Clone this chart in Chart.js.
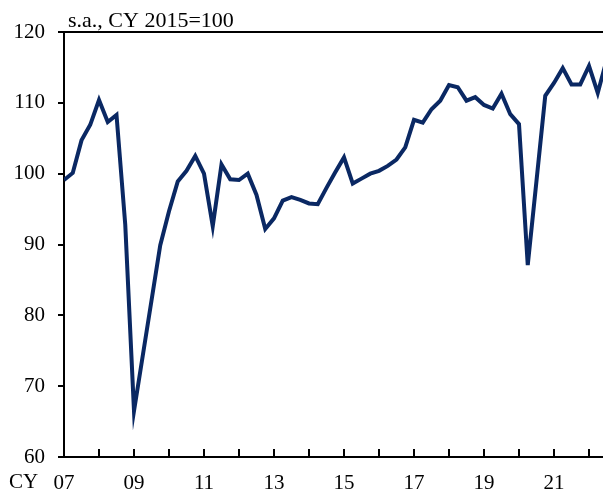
<!DOCTYPE html>
<html>
<head>
<meta charset="utf-8">
<script src="https://cdn.jsdelivr.net/npm/chart.js@4/dist/chart.umd.min.js"></script>
<style>
  html, body { margin: 0; padding: 0; background: #fff; }
  #wrap { width: 603px; height: 492px; }
</style>
</head>
<body>
<div id="wrap"><canvas id="chart" width="603" height="492"></canvas></div>
<script>
// quarterly index, 2007Q1 .. 2022Q3
const startYear = 2007;
const values = [
  99.1, 100.1, 104.7, 106.9, 110.4, 107.3, 108.3, 92.8,
  66.5, 74.3, 82.1, 89.9, 94.7, 98.9, 100.4, 102.5,
  100.0, 92.6, 101.3, 99.2, 99.1, 100.0, 97.0, 92.2,
  93.7, 96.2, 96.7, 96.3, 95.8, 95.7, 98.0, 100.2,
  102.3, 98.6, 99.3, 100.0, 100.4, 101.1, 102.0, 103.7,
  107.6, 107.2, 109.1, 110.3, 112.5, 112.2, 110.3, 110.8,
  109.7, 109.2, 111.3, 108.4, 107.0, 87.1, 99.0, 111.0,
  112.8, 114.9, 112.6, 112.6, 115.2, 111.4, 116.0
];
const yTicks = [60, 70, 80, 90, 100, 110, 120];
const unitLabel = "s.a., CY 2015=100";
const axisPrefix = "CY";

const points = values.map((v, i) => ({ x: startYear + i / 4, y: v }));
const serif = "'Liberation Serif', 'Times New Roman', serif";

const extras = {
  id: "extras",
  afterDraw(chart) {
    const { ctx, chartArea } = chart;
    const xs = chart.scales.x;
    ctx.save();
    ctx.strokeStyle = "#000";
    ctx.lineWidth = 2;
    // top frame line
    ctx.beginPath();
    ctx.moveTo(chartArea.left - 1, chartArea.top);
    ctx.lineTo(chartArea.right, chartArea.top);
    ctx.stroke();
    // inward year ticks on the x axis
    ctx.beginPath();
    xs.ticks.forEach(t => {
      const px = Math.round(xs.getPixelForValue(t.value));
      ctx.moveTo(px, chartArea.bottom);
      ctx.lineTo(px, chartArea.bottom - 8);
    });
    ctx.stroke();

    ctx.fillStyle = "#000";
    ctx.font = "22px " + serif;
    ctx.textBaseline = "alphabetic";
    ctx.textAlign = "left";
    ctx.fillText(unitLabel, chartArea.left + 4, chartArea.top - 5);

    ctx.font = "21px " + serif;
    ctx.fillText(axisPrefix, 9, 488);
    ctx.restore();
  }
};

new Chart(document.getElementById("chart"), {
  type: "line",
  data: {
    datasets: [{
      data: points,
      borderColor: "#0a2863",
      borderWidth: 4,
      pointRadius: 0,
      tension: 0,
      fill: false
    }]
  },
  options: {
    responsive: false,
    animation: false,
    layout: { padding: { top: 32, left: 0, right: 0, bottom: 0 } },
    plugins: { legend: { display: false }, tooltip: { enabled: false } },
    scales: {
      x: {
        type: "linear",
        min: startYear,
        max: startYear + 61.6 / 4,
        afterFit(scale) {
          scale.height = 35;
          scale.paddingLeft = 0;
          scale.paddingRight = 0;
        },
        afterBuildTicks(scale) {
          const t = [];
          for (let y = startYear; y <= 2022; y++) t.push({ value: y });
          scale.ticks = t;
        },
        grid: { drawOnChartArea: false, drawTicks: false },
        border: { color: "#000", width: 2 },
        ticks: {
          autoSkip: false,
          maxRotation: 0,
          padding: 14,
          color: "#000",
          font: { family: serif, size: 21 },
          callback: v => (v % 2 === 1 ? String(v).slice(2) : "")
        }
      },
      y: {
        min: 60,
        max: 120,
        afterFit(scale) { scale.width = 64; },
        afterBuildTicks(scale) { scale.ticks = yTicks.map(v => ({ value: v })); },
        grid: { drawOnChartArea: false, tickLength: 6, color: "#000", lineWidth: 2 },
        border: { color: "#000", width: 2 },
        ticks: {
          padding: 13,
          color: "#000",
          font: { family: serif, size: 21 }
        }
      }
    }
  },
  plugins: [extras]
});
</script>
</body>
</html>
